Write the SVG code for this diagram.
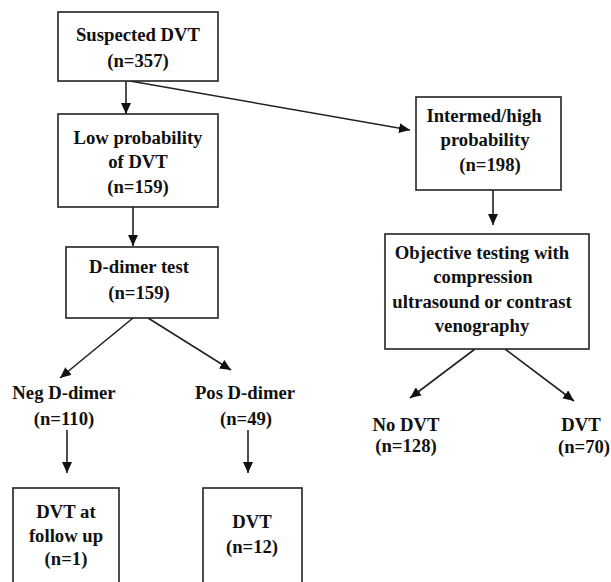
<svg xmlns="http://www.w3.org/2000/svg" width="611" height="582" viewBox="0 0 611 582">
<style>
.box{fill:#fff;stroke:#222;stroke-width:1.6}
.t{font-weight:bold;font-size:18.7px;fill:#111;text-anchor:middle}
.c{stroke:#222;stroke-width:1.6;fill:none;marker-end:url(#ah)}
</style>
<defs>
<marker id="ah" markerUnits="userSpaceOnUse" markerWidth="12" markerHeight="10" refX="11" refY="5" orient="auto">
<path d="M0,0 L11,5 L0,10 Z" fill="#111"/>
</marker>
</defs>
<rect width="611" height="582" fill="#fff"/>
<g id="connectors">
<line class="c" x1="126" y1="81" x2="126" y2="114"/>
<line class="c" x1="130" y1="81" x2="410" y2="130"/>
<line class="c" x1="133" y1="207" x2="133" y2="246"/>
<line class="c" x1="493" y1="190" x2="493" y2="225"/>
<line class="c" x1="133" y1="318" x2="60" y2="378"/>
<line class="c" x1="148" y1="318" x2="231" y2="370"/>
<line class="c" x1="67" y1="430" x2="67" y2="473"/>
<line class="c" x1="248" y1="430" x2="248" y2="473"/>
<line class="c" x1="475" y1="349" x2="410" y2="398"/>
<line class="c" x1="505" y1="349" x2="574" y2="401"/>
</g>
<g font-family="Liberation Serif, Times New Roman, serif">
<g id="n1">
<rect class="box" x="58" y="12" width="160" height="69"/>
<text class="t" x="138" y="41">Suspected DVT</text>
<text class="t" x="138" y="67">(n=357)</text>
</g>
<g id="n2">
<rect class="box" x="58" y="114" width="160" height="93"/>
<text class="t" x="138" y="144">Low probability</text>
<text class="t" x="138" y="168">of DVT</text>
<text class="t" x="138" y="193">(n=159)</text>
</g>
<g id="n3">
<rect class="box" x="66" y="247" width="152" height="71"/>
<text class="t" x="139" y="273">D-dimer test</text>
<text class="t" x="139" y="299">(n=159)</text>
</g>
<g id="n4">
<rect class="box" x="416" y="97" width="145" height="93"/>
<text class="t" x="484" y="122">Intermed/high</text>
<text class="t" x="485" y="146">probability</text>
<text class="t" x="490" y="171">(n=198)</text>
</g>
<g id="n5">
<rect class="box" x="385" y="234" width="204" height="115"/>
<text class="t" x="482" y="259">Objective testing with</text>
<text class="t" x="483" y="283">compression</text>
<text class="t" x="482" y="308">ultrasound or contrast</text>
<text class="t" x="482" y="332">venography</text>
</g>
<g id="n6">
<text class="t" x="64" y="399">Neg D-dimer</text>
<text class="t" x="64" y="425">(n=110)</text>
</g>
<g id="n7">
<text class="t" x="245" y="399">Pos D-dimer</text>
<text class="t" x="246" y="425">(n=49)</text>
</g>
<g id="n8">
<text class="t" x="406" y="431">No DVT</text>
<text class="t" x="406" y="452">(n=128)</text>
</g>
<g id="n9">
<text class="t" x="581" y="431">DVT</text>
<text class="t" x="584" y="453">(n=70)</text>
</g>
<g id="n10">
<rect class="box" x="13" y="488" width="106" height="100"/>
<text class="t" x="66" y="518">DVT at</text>
<text class="t" x="66" y="542">follow up</text>
<text class="t" x="66" y="565">(n=1)</text>
</g>
<g id="n11">
<rect class="box" x="203" y="488" width="99" height="100"/>
<text class="t" x="252" y="528">DVT</text>
<text class="t" x="252" y="553">(n=12)</text>
</g>
</g>
</svg>
